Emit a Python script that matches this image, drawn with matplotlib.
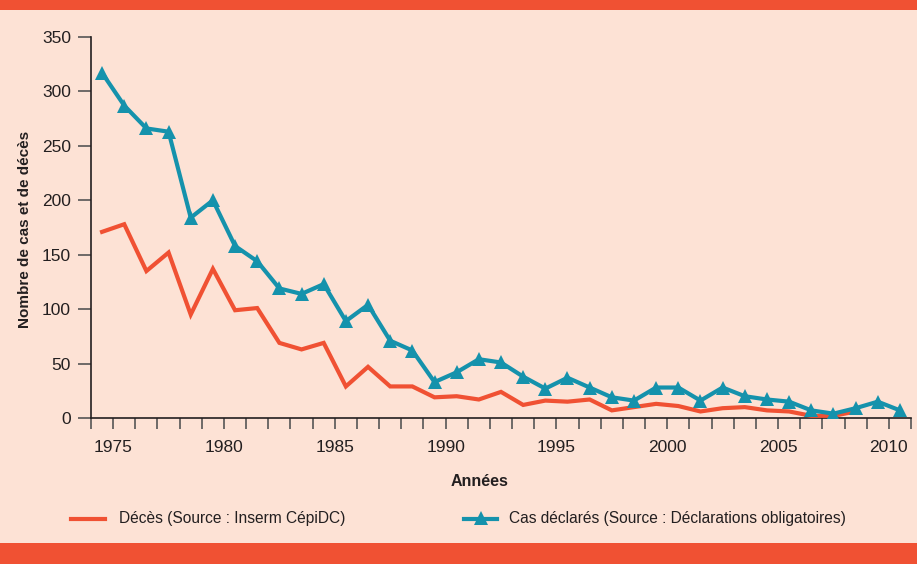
import matplotlib
matplotlib.use("Agg")
import matplotlib.pyplot as plt
from matplotlib.lines import Line2D
from matplotlib.patches import Rectangle

plt.rcParams['font.family'] = ['Liberation Sans', 'DejaVu Sans']

years_cas = list(range(1975, 2012))
cas = [317, 287, 266, 263, 184, 200, 158, 144, 119, 114, 123, 89, 104, 71, 62,
       33, 42, 54, 51, 38, 27, 37, 28, 19, 16, 28, 28, 16, 28, 20, 17, 15, 7, 4,
       9, 15, 7]
years_deces = list(range(1975, 2010))
deces = [171, 178, 135, 152, 95, 137, 99, 101, 69, 63, 69, 29, 47, 29, 29, 19,
         20, 17, 24, 12, 16, 15, 17, 7, 10, 13, 11, 6, 9, 10, 7, 6, 2, 2, 6]
label_years = [1975, 1980, 1985, 1990, 1995, 2000, 2005, 2010]
yticks = [0, 50, 100, 150, 200, 250, 300, 350]

RED = '#F05133'
BLUE = '#1592AC'
BG = '#FDE2D5'
TXT = '#231F20'

W, H = 917, 564
fig = plt.figure(figsize=(W / 100, H / 100), dpi=100, facecolor=BG)

def fx(px):
    return px / W

def fy(py):
    return 1 - py / H

# top and bottom orange bands
fig.patches.append(Rectangle((0, fy(10)), 1, 10 / H, transform=fig.transFigure,
                             facecolor=RED, edgecolor='none', zorder=0))
fig.patches.append(Rectangle((0, 0), 1, 21 / H, transform=fig.transFigure,
                             facecolor=RED, edgecolor='none', zorder=0))

x0, x1, ytop, ybot = 91, 911, 37, 418
ax = fig.add_axes([fx(x0), fy(ybot), (x1 - x0) / W, (ybot - ytop) / H])
ax.set_facecolor(BG)

xc = [y - 0.5 for y in years_cas]
xd = [y - 0.5 for y in years_deces]
ax.plot(xd, deces, color=RED, lw=3.0, solid_joinstyle='miter', zorder=3)
ax.plot(xc, cas, color=BLUE, lw=3.0, marker='^', markersize=9.5,
        markeredgewidth=0, solid_joinstyle='miter', zorder=4)

ax.set_xlim(1974, 2011)
ax.set_ylim(0, 350)
ax.set_xticks(list(range(1974, 2012)))
ax.set_xticklabels([str(y) if y in label_years else '' for y in range(1974, 2012)])
ax.set_yticks(yticks)
ax.set_yticklabels([str(v) for v in yticks])

for s in ['top', 'right']:
    ax.spines[s].set_visible(False)
for s in ['left', 'bottom']:
    ax.spines[s].set_color(TXT)
    ax.spines[s].set_linewidth(1.2)

ax.tick_params(axis='y', length=9.5, width=1.2, color='#555555', pad=5,
               labelsize=12.5, labelcolor=TXT)
ax.tick_params(axis='x', length=8, width=1.2, color='#555555', pad=8,
               labelsize=12.5, labelcolor=TXT)

fig.text(fx(25), fy(229), 'Nombre de cas et de décès', rotation=90,
         ha='center', va='center', fontsize=11, fontweight='bold', color=TXT)
fig.text(fx(480), fy(482), 'Années', ha='center', va='center',
         fontsize=11.5, fontweight='bold', color=TXT)

# legend (drawn in figure pixel positions)
fig.add_artist(Line2D([fx(71), fx(105)], [fy(519), fy(519)], transform=fig.transFigure,
                      color=RED, lw=3.0))
fig.text(fx(119), fy(519), 'Décès (Source : Inserm CépiDC)', ha='left', va='center',
         fontsize=11.2, color=TXT)
fig.add_artist(Line2D([fx(464), fx(497)], [fy(519), fy(519)], transform=fig.transFigure,
                      color=BLUE, lw=3.0))
fig.add_artist(Line2D([fx(480.5)], [fy(518)], transform=fig.transFigure,
                      color=BLUE, marker='^', markersize=9.5, markeredgewidth=0,
                      linestyle='none'))
fig.text(fx(509), fy(519), 'Cas déclarés (Source : Déclarations obligatoires)',
         ha='left', va='center', fontsize=11.2, color=TXT)

fig.savefig('out.png', dpi=100, facecolor=BG)
